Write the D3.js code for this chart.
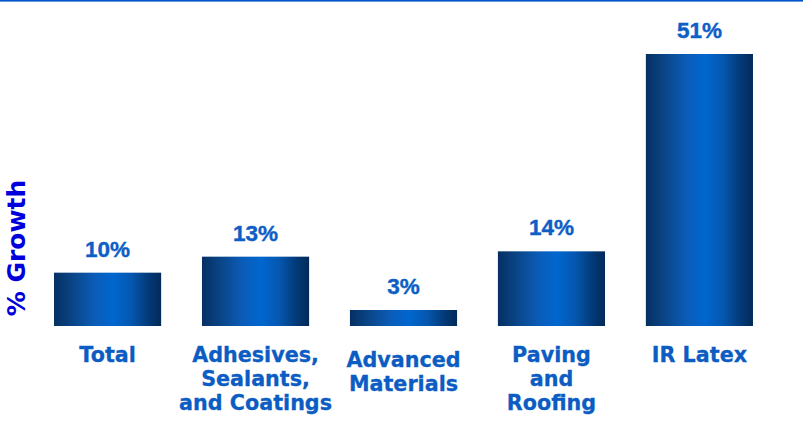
<!DOCTYPE html>
<html>
<head>
<meta charset="utf-8">
<script src="https://cdn.jsdelivr.net/npm/d3@7"></script>
<style>
  html, body { margin: 0; padding: 0; background: #ffffff; }
  svg { display: block; }
</style>
</head>
<body>
<svg id="chart" width="803" height="422"></svg>
<script>
// Growth by business segment
const categories = ["Total", "Adhesives,\nSealants,\nand Coatings", "Advanced\nMaterials", "Paving\nand\nRoofing", "IR Latex"];
const growth = [10, 13, 3, 14, 51];
const valueLabels = ["10%", "13%", "3%", "14%", "51%"];
const axisTitle = "% Growth";

const W = 803, H = 422;
const svg = d3.select("#chart");

const x = d3.scaleBand()
  .domain(categories)
  .range([33.6, 773.4])
  .paddingInner(0.276)
  .paddingOuter(0.138);

const y = d3.scaleLinear()
  .domain([0, 51])
  .range([326, 54]);

// horizontal shading across each bar
const defs = svg.append("defs");
const grad = defs.append("linearGradient")
  .attr("id", "barShade")
  .attr("x1", "0%").attr("x2", "100%")
  .attr("y1", "0%").attr("y2", "0%");
[
  [0, "#062f62"],
  [0.18, "#0a4688"],
  [0.38, "#0b5cb8"],
  [0.55, "#0067cf"],
  [0.72, "#0557b0"],
  [0.88, "#033a78"],
  [1, "#022a58"]
].forEach(([o, c]) => grad.append("stop").attr("offset", o).attr("stop-color", c));

// thin rule along the top edge
svg.append("rect")
  .attr("x", 0).attr("y", 0)
  .attr("width", W).attr("height", 1.6)
  .attr("fill", "#0055cc");

const data = categories.map((c, i) => ({ cat: c, v: growth[i], label: valueLabels[i] }));

svg.append("g").selectAll("rect")
  .data(data)
  .join("rect")
  .attr("x", d => x(d.cat))
  .attr("y", d => y(d.v))
  .attr("width", x.bandwidth())
  .attr("height", d => y(0) - y(d.v))
  .attr("fill", "url(#barShade)");

// value labels above the bars
svg.append("g").selectAll("text")
  .data(data)
  .join("text")
  .attr("x", d => x(d.cat) + x.bandwidth() / 2)
  .attr("y", d => y(d.v) - 16)
  .attr("text-anchor", "middle")
  .attr("font-family", "'Liberation Sans', Arial, sans-serif")
  .attr("font-weight", "bold")
  .attr("font-size", "22.5px")
  .attr("fill", "#0d5ec6")
  .attr("stroke", "#0d5ec6")
  .attr("stroke-width", 0.4)
  .text(d => d.label);

// category labels below the baseline
const catG = svg.append("g");
data.forEach(d => {
  const lines = d.cat.split("\n");
  const shift = lines.length === 2 ? 5 : 0;
  const t = catG.append("text")
    .attr("x", x(d.cat) + x.bandwidth() / 2)
    .attr("y", 362 + shift)
    .attr("text-anchor", "middle")
    .attr("font-family", "'DejaVu Sans', Verdana, sans-serif")
    .attr("font-weight", "bold")
    .attr("font-size", "20.7px")
    .attr("fill", "#0b5cc3")
    .attr("stroke", "#0b5cc3")
    .attr("stroke-width", 0.3);
  lines.forEach((ln, i) => {
    t.append("tspan")
      .attr("x", x(d.cat) + x.bandwidth() / 2)
      .attr("dy", i === 0 ? 0 : 24)
      .text(ln);
  });
});

// y-axis title
svg.append("text")
  .attr("transform", "translate(25,248) rotate(-90)")
  .attr("text-anchor", "middle")
  .attr("font-family", "'DejaVu Sans', Verdana, sans-serif")
  .attr("font-weight", "bold")
  .attr("font-size", "25px")
  .attr("fill", "#0000dd")
  .text(axisTitle);
</script>
</body>
</html>
